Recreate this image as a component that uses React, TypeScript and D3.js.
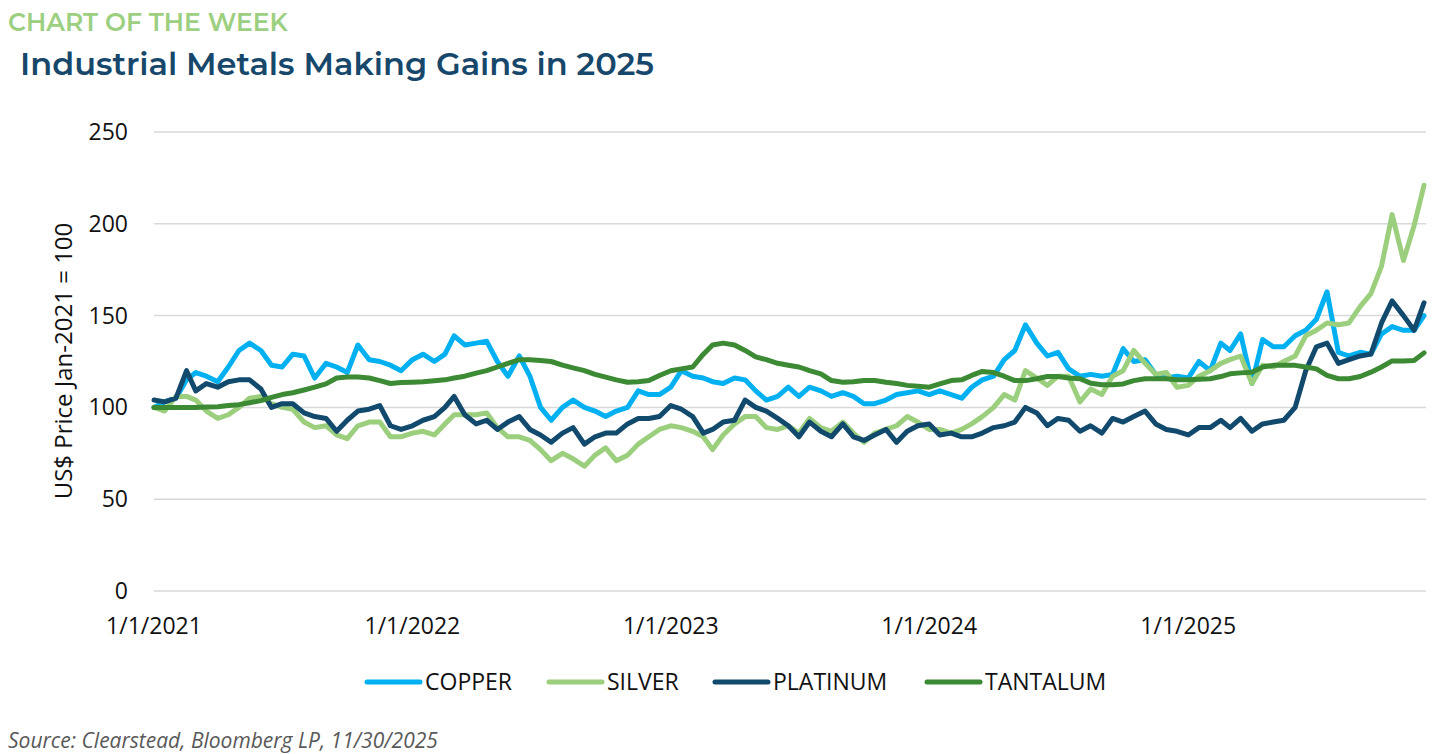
import * as d3 from 'd3';
import { useEffect, useRef } from 'react';

// semi-monthly sample dates: 1st and 16th of every month, plus the last print
const months = d3.utcMonth.range(new Date(Date.UTC(2021, 0, 1)), new Date(Date.UTC(2025, 10, 2)));
const dates: Date[] = months
    .flatMap(d => [d, new Date(Date.UTC(d.getUTCFullYear(), d.getUTCMonth(), 16))])
    .concat([new Date(Date.UTC(2025, 10, 30))]);

const copper = [
    100, 103, 105, 115, 119, 117, 114, 122, 131, 135, 131, 123, 122, 129, 128, 116, 124, 122, 119, 134, 126, 125, 123, 120,
    126, 129, 125, 129, 139, 134, 135, 136, 125, 117, 128, 117, 100, 93, 100, 104, 100, 98, 95, 98, 100, 109, 107, 107,
    111, 120, 117, 116, 114, 113, 116, 115, 109, 104, 106, 111, 106, 111, 109, 106, 108, 106, 102, 102, 104, 107, 108, 109,
    107, 109, 107, 105, 111, 115, 117, 126, 131, 145, 135, 128, 130, 121, 117, 118, 117, 118, 132, 125, 126, 118, 116, 117,
    116, 125, 120, 135, 131, 140, 113, 137, 133, 133, 139, 142, 148, 163, 130, 128, 130, 129, 140, 144, 142, 142, 150,
];

const silver = [
    100, 98, 106, 106, 104, 98, 94, 96, 100, 105, 106, 102, 100, 99, 92, 89, 90, 85, 83, 90, 92, 92, 84, 84,
    86, 87, 85, 91, 96, 96, 96, 97, 89, 84, 84, 82, 77, 71, 75, 72, 68, 74, 78, 71, 74, 80, 84, 88,
    90, 89, 87, 84, 77, 85, 91, 95, 95, 89, 88, 90, 86, 94, 89, 87, 92, 86, 81, 86, 88, 90, 95, 92,
    88, 88, 86, 88, 91, 95, 100, 107, 104, 120, 116, 112, 117, 117, 103, 110, 107, 117, 120, 131, 124, 118, 119, 111,
    112, 117, 120, 124, 126, 128, 113, 123, 122, 125, 128, 139, 142, 146, 145, 146, 155, 162, 177, 205, 180, 199, 221,
];

const platinum = [
    104, 103, 105, 120, 109, 113, 111, 114, 115, 115, 110, 100, 102, 102, 97, 95, 94, 87, 93, 98, 99, 101, 90, 88,
    90, 93, 95, 100, 106, 96, 91, 93, 88, 92, 95, 88, 85, 81, 86, 89, 80, 84, 86, 86, 91, 94, 94, 95,
    101, 99, 95, 86, 88, 92, 93, 104, 100, 98, 94, 90, 84, 92, 87, 84, 91, 84, 82, 85, 88, 81, 87, 90,
    91, 85, 86, 84, 84, 86, 89, 90, 92, 100, 97, 90, 94, 93, 87, 90, 86, 94, 92, 95, 98, 91, 88, 87,
    85, 89, 89, 93, 89, 94, 87, 91, 92, 93, 100, 120, 133, 135, 124, 126, 128, 129, 146, 158, 150, 142, 157,
];

const tantalum = [
    100, 100, 100, 100, 100, 100.2, 100.4, 101, 101.5, 102.5, 103.7, 105.5, 107, 108, 109.5, 111, 112.8, 116, 116.5, 116.5, 116, 114.6, 113, 113.5,
    113.7, 114, 114.5, 115, 116, 117, 118.7, 120, 122, 124, 126, 126, 125.6, 125, 123, 121.5, 120, 118, 116.5, 115, 113.7, 114, 114.6, 117.4,
    120, 121, 122, 129, 134, 135, 134, 131, 127.5, 126, 124, 123, 122, 120, 118.3, 114.6, 113.7, 114, 114.6, 114.6, 113.7, 113, 112, 111.5,
    111, 112.8, 114.6, 115, 117.4, 119.6, 119, 117, 114.6, 114.6, 115.6, 116.8, 116.8, 116, 115.6, 113.2, 112.3, 112.3, 112.8, 114.6, 115.6, 115.6, 115.6, 115,
    115, 115.3, 115.6, 116.8, 118.3, 118.8, 119.2, 122, 122.9, 122.9, 122.9, 122, 121, 117.4, 115.6, 115.6, 116.8, 119.2, 122, 125.3, 125.3, 125.6, 129.7,
];

const seriesNames = ['COPPER', 'SILVER', 'PLATINUM', 'TANTALUM'];
const seriesValues = [copper, silver, platinum, tantalum];
const seriesColors = ['#00b0f0', '#9bcf7d', '#124a6d', '#3d8a35'];

const yTicks = [0, 50, 100, 150, 200, 250];
const xTickDates = [2021, 2022, 2023, 2024, 2025].map(y => new Date(Date.UTC(y, 0, 1)));

const W = 1454;
const H = 754;
const font = "'Open Sans', 'Noto Sans', sans-serif";

const xScale = d3.scaleUtc()
    .domain([new Date(Date.UTC(2021, 0, 1)), new Date(Date.UTC(2025, 10, 30))])
    .range([154, 1424]);

const yScale = d3.scaleLinear()
    .domain([0, 250])
    .range([591, 132]);

const App = () => {
    const ref = useRef<SVGSVGElement | null>(null);

    useEffect(() => {
        document.body.style.margin = '0';
        const svg = d3.select(ref.current);
        svg.selectAll('*').remove();

        // titles
        svg.append('text')
            .attr('x', 8).attr('y', 31)
            .attr('font-family', "'Montserrat', 'Noto Sans', sans-serif")
            .attr('font-size', 25).attr('font-weight', 600)
            .attr('fill', '#9ccf7f')
            .text('CHART OF THE WEEK');
        svg.append('text')
            .attr('x', 20).attr('y', 75)
            .attr('font-family', "'Montserrat', 'Noto Sans', sans-serif")
            .attr('font-size', 32).attr('font-weight', 600)
            .attr('fill', '#17486b')
            .text('Industrial Metals Making Gains in 2025');

        // grid + y labels
        const grid = svg.append('g');
        grid.selectAll('line')
            .data(yTicks)
            .enter()
            .append('line')
            .attr('x1', 154).attr('x2', 1426)
            .attr('y1', d => yScale(d)).attr('y2', d => yScale(d))
            .attr('stroke', '#d9d9d9')
            .attr('stroke-width', 1.5);
        grid.selectAll('text')
            .data(yTicks)
            .enter()
            .append('text')
            .attr('x', 128)
            .attr('y', d => yScale(d))
            .attr('dy', '0.35em')
            .attr('text-anchor', 'end')
            .attr('font-family', font).attr('font-size', 23)
            .attr('fill', '#111')
            .text(d => d);

        svg.append('text')
            .attr('transform', 'translate(72,361) rotate(-90)')
            .attr('text-anchor', 'middle')
            .attr('font-family', font).attr('font-size', 24)
            .attr('fill', '#111')
            .text('US$ Price Jan-2021 = 100');

        // x labels
        svg.append('g').selectAll('text')
            .data(xTickDates)
            .enter()
            .append('text')
            .attr('x', d => xScale(d))
            .attr('y', 634)
            .attr('text-anchor', 'middle')
            .attr('font-family', font).attr('font-size', 23)
            .attr('fill', '#111')
            .text(d => d3.utcFormat('%-m/%-d/%Y')(d));

        // lines
        const line = d3.line<number>()
            .x((_d, i) => xScale(dates[i]))
            .y(d => yScale(d))
            .curve(d3.curveLinear);

        svg.append('g').selectAll('path')
            .data(seriesValues)
            .enter()
            .append('path')
            .attr('d', d => line(d))
            .attr('fill', 'none')
            .attr('stroke', (_d, i) => seriesColors[i])
            .attr('stroke-width', 5)
            .attr('stroke-linejoin', 'round')
            .attr('stroke-linecap', 'round');

        // legend
        const legendX = [367, 549, 715, 927];
        const legend = svg.append('g').selectAll('g')
            .data(seriesNames)
            .enter()
            .append('g')
            .attr('transform', (_d, i) => `translate(${legendX[i]},682)`);
        legend.append('line')
            .attr('x1', 0).attr('x2', 53)
            .attr('stroke', (_d, i) => seriesColors[i])
            .attr('stroke-width', 5)
            .attr('stroke-linecap', 'round');
        legend.append('text')
            .attr('x', 58)
            .attr('dy', '0.35em')
            .attr('font-family', font).attr('font-size', 23)
            .attr('fill', '#111')
            .text(d => d);

        svg.append('text')
            .attr('x', 8).attr('y', 748)
            .attr('font-family', font).attr('font-size', 21)
            .attr('font-style', 'italic')
            .attr('fill', '#595959')
            .text('Source: Clearstead, Bloomberg LP, 11/30/2025');
    }, [ref]);

    return <svg ref={ref} width={W} height={H} style={{ display: 'block', background: '#fff' }} />;
};

export default App;
